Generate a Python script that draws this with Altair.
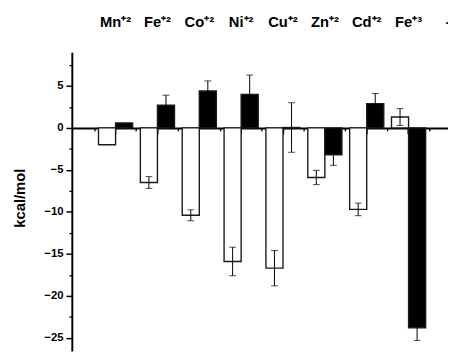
import altair as alt
import pandas as pd

# ---- data ----
ions = ["Mn⁺²", "Fe⁺²", "Co⁺²", "Ni⁺²", "Cu⁺²", "Zn⁺²", "Cd⁺²", "Fe⁺³", "--"]
bar_ions = ["Mn⁺²", "Fe⁺²", "Co⁺²", "Ni⁺²", "Cu⁺²", "Zn⁺²", "Cd⁺²", "Fe⁺³"]
series = ["open", "filled"]
open_vals = [-2.0, -6.5, -10.4, -15.9, -16.7, -5.9, -9.7, 1.3]
open_err = [0.0, 0.7, 0.65, 1.7, 2.1, 0.85, 0.75, 1.0]
filled_vals = [0.6, 2.7, 4.4, 4.0, 0.05, -3.2, 2.9, -23.8]
filled_err = [0.0, 1.2, 1.2, 2.3, 2.95, 1.25, 1.2, 1.5]
major_y = [5, 0, -5, -10, -15, -20, -25]
minor_y = [7.5, 2.5, -2.5, -7.5, -12.5, -17.5, -22.5]

rows = []
for i, ion in enumerate(bar_ions):
    rows.append(dict(ion=ion, series="open", value=open_vals[i], err=open_err[i]))
    rows.append(dict(ion=ion, series="filled", value=filled_vals[i], err=filled_err[i]))
df = pd.DataFrame(rows)
df["lo"] = df["value"] - df["err"]
df["hi"] = df["value"] + df["err"]

FONT = "Liberation Sans"

x_scale = alt.Scale(domain=ions, range=[0, 430], paddingInner=0, paddingOuter=0.545)
xoff_scale = alt.Scale(domain=series, paddingInner=0, paddingOuter=0.226)
y_scale = alt.Scale(domain=[-26.55, 9.0], nice=False, zero=False)

ZERO_OFFSET = -227

bars = alt.Chart(df).mark_bar(stroke="#1a1a1a", strokeWidth=1.4).encode(
    x=alt.X("ion:N", scale=x_scale, sort=ions,
            axis=alt.Axis(orient="top", title=None, domain=False, ticks=False, tickSize=0,
                          labelAngle=0, labelFont=FONT, labelFontSize=15, labelFontWeight="bold",
                          labelPadding=23, labelColor="black")),
    xOffset=alt.XOffset("series:N", scale=xoff_scale, sort=series),
    y=alt.Y("value:Q", scale=y_scale,
            axis=alt.Axis(orient="left", values=major_y, title="kcal/mol", tickSize=6, tickWidth=1.5,
                          domainWidth=2, labelFont=FONT, labelFontSize=11.5, labelFontWeight="bold",
                          labelPadding=3, titleFont=FONT, titleFontSize=15, titleFontWeight="bold",
                          titlePadding=17, titleY=148, labelColor="black", titleColor="black")),
    y2=alt.datum(0),
    color=alt.Color("series:N", scale=alt.Scale(domain=series, range=["white", "black"]), legend=None),
)

errs = alt.Chart(df).transform_filter("datum.err > 0").mark_rule(color="black", strokeWidth=1).encode(
    x=alt.X("ion:N", scale=x_scale, sort=ions,
            axis=alt.Axis(orient="bottom", offset=ZERO_OFFSET, title=None, labels=False,
                          bandPosition=0, tickSize=3, tickWidth=1.3, domainWidth=2)),
    xOffset=alt.XOffset("series:N", scale=xoff_scale, sort=series),
    y=alt.Y("lo:Q", scale=y_scale,
            axis=alt.Axis(orient="left", values=minor_y, title=None, labels=False, domain=False,
                          tickSize=3, tickWidth=1.3)),
    y2="hi:Q",
)

caps = alt.Chart(df).transform_filter("datum.err > 0").transform_fold(
    ["lo", "hi"], as_=["end", "yv"]
).mark_tick(color="black", thickness=1, size=7, orient="horizontal").encode(
    x=alt.X("ion:N", scale=x_scale, sort=ions,
            axis=alt.Axis(orient="bottom", offset=ZERO_OFFSET, title=None, labels=False,
                          domain=False, bandPosition=0.5, tickSize=6, tickWidth=1.5)),
    xOffset=alt.XOffset("series:N", scale=xoff_scale, sort=series),
    y=alt.Y("yv:Q", scale=y_scale, axis=None),
)

chart = alt.layer(bars, errs, caps).resolve_axis(x="independent", y="independent").properties(
    width=383, height=304,
    autosize=alt.AutoSizeParams(type="none"),
    padding={"left": 65, "top": 42, "right": 0, "bottom": 0},
).configure_view(stroke=None).configure_axis(
    grid=False, domainColor="black", tickColor="black"
)

chart.save("out.html", embed_options={"renderer": "svg", "actions": False})
